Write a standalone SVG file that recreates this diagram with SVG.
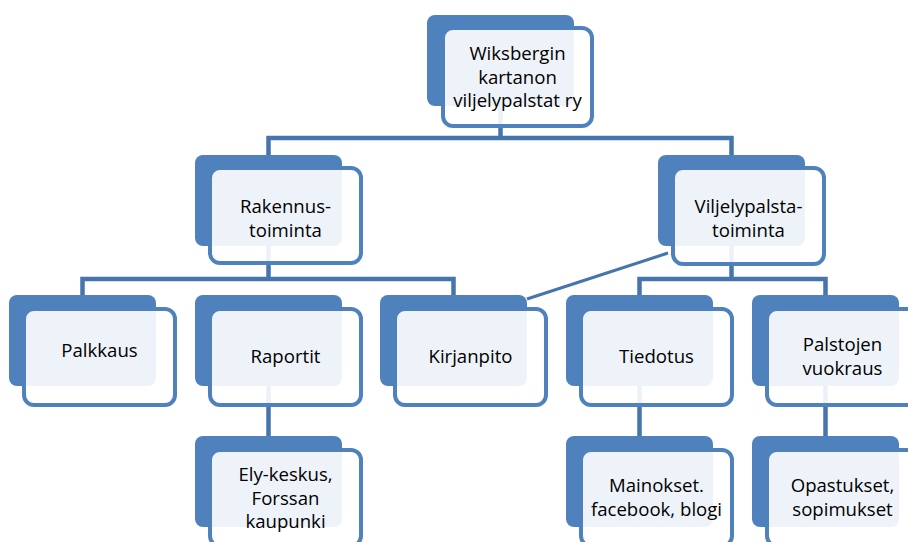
<svg xmlns="http://www.w3.org/2000/svg" width="908" height="542" viewBox="0 0 908 542">
<style>
.bk{fill:#4F81BD}
.fr{fill:#FFFFFF;fill-opacity:0.9;stroke:#4F81BD;stroke-width:4}
.t{font-family:"Open Sans","Liberation Sans",sans-serif;font-size:18.6px;fill:#000;text-anchor:middle}
.c{fill:none;stroke:#4674AD;stroke-width:4.5}
</style>
<rect width="908" height="542" fill="#FFFFFF"/>
<g id="connectors">
<path class="c" d="M500.5,105 V138"/>
<path class="c" d="M268.5,155 V138 H731.5 V155"/>
<path class="c" d="M268.5,245 V279"/>
<path class="c" d="M82.5,295 V279 H453.5 V295"/>
<path class="c" d="M731.5,245 V279"/>
<path class="c" d="M639.5,295 V279 H825.5 V295"/>
<path class="c" d="M268.5,386 V436"/>
<path class="c" d="M639.5,386 V436"/>
<path class="c" d="M825.5,386 V436"/>
<path class="c" d="M527,299 L668,253" style="stroke-width:3"/>
</g>
<g id="n-top">
<rect class="bk" x="427" y="15" width="147" height="91" rx="8"/>
<rect class="fr" x="443" y="28" width="149" height="98" rx="10"/>
<text class="t"><tspan x="517.5" y="60">Wiksbergin</tspan><tspan x="517.5" y="83.5">kartanon</tspan><tspan x="517.5" y="107">viljelypalstat ry</tspan></text>
</g>
<g id="n-rakennus">
<rect class="bk" x="195" y="155" width="147" height="91" rx="8"/>
<rect class="fr" x="210" y="168" width="151" height="95" rx="10"/>
<text class="t"><tspan x="285.5" y="213">Rakennus-</tspan><tspan x="285.5" y="236.5">toiminta</tspan></text>
</g>
<g id="n-viljely">
<rect class="bk" x="658" y="155" width="147" height="91" rx="8"/>
<rect class="fr" x="673" y="168" width="151" height="96" rx="10"/>
<text class="t"><tspan x="748.5" y="213">Viljelypalsta-</tspan><tspan x="748.5" y="236.5">toiminta</tspan></text>
</g>
<g id="n-palkkaus">
<rect class="bk" x="9" y="295" width="147" height="91" rx="8"/>
<rect class="fr" x="24" y="309" width="151" height="96" rx="10"/>
<text class="t" x="99.5" y="357">Palkkaus</text>
</g>
<g id="n-raportit">
<rect class="bk" x="195" y="295" width="147" height="91" rx="8"/>
<rect class="fr" x="210" y="309" width="151" height="96" rx="10"/>
<text class="t" x="285.5" y="363">Raportit</text>
</g>
<g id="n-kirjanpito">
<rect class="bk" x="380" y="295" width="147" height="91" rx="8"/>
<rect class="fr" x="395" y="309" width="151" height="96" rx="10"/>
<text class="t" x="470.5" y="363">Kirjanpito</text>
</g>
<g id="n-tiedotus">
<rect class="bk" x="566" y="295" width="147" height="91" rx="8"/>
<rect class="fr" x="581" y="309" width="151" height="96" rx="10"/>
<text class="t" x="656.5" y="363">Tiedotus</text>
</g>
<g id="n-palstojen">
<rect class="bk" x="752" y="295" width="147" height="91" rx="8"/>
<rect class="fr" x="767" y="309" width="151" height="96" rx="10"/>
<text class="t"><tspan x="842.5" y="351">Palstojen</tspan><tspan x="842.5" y="374.5">vuokraus</tspan></text>
</g>
<g id="n-ely">
<rect class="bk" x="195" y="436" width="147" height="91" rx="8"/>
<rect class="fr" x="210" y="450" width="151" height="96" rx="10"/>
<text class="t"><tspan x="285.5" y="481">Ely-keskus,</tspan><tspan x="285.5" y="504.5">Forssan</tspan><tspan x="285.5" y="528">kaupunki</tspan></text>
</g>
<g id="n-mainokset">
<rect class="bk" x="566" y="436" width="147" height="91" rx="8"/>
<rect class="fr" x="581" y="450" width="151" height="96" rx="10"/>
<text class="t"><tspan x="656.5" y="492">Mainokset.</tspan><tspan x="656.5" y="515.5">facebook, blogi</tspan></text>
</g>
<g id="n-opastukset">
<rect class="bk" x="752" y="436" width="147" height="91" rx="8"/>
<rect class="fr" x="767" y="450" width="151" height="96" rx="10"/>
<text class="t"><tspan x="842.5" y="492">Opastukset,</tspan><tspan x="842.5" y="515.5">sopimukset</tspan></text>
</g>
</svg>
